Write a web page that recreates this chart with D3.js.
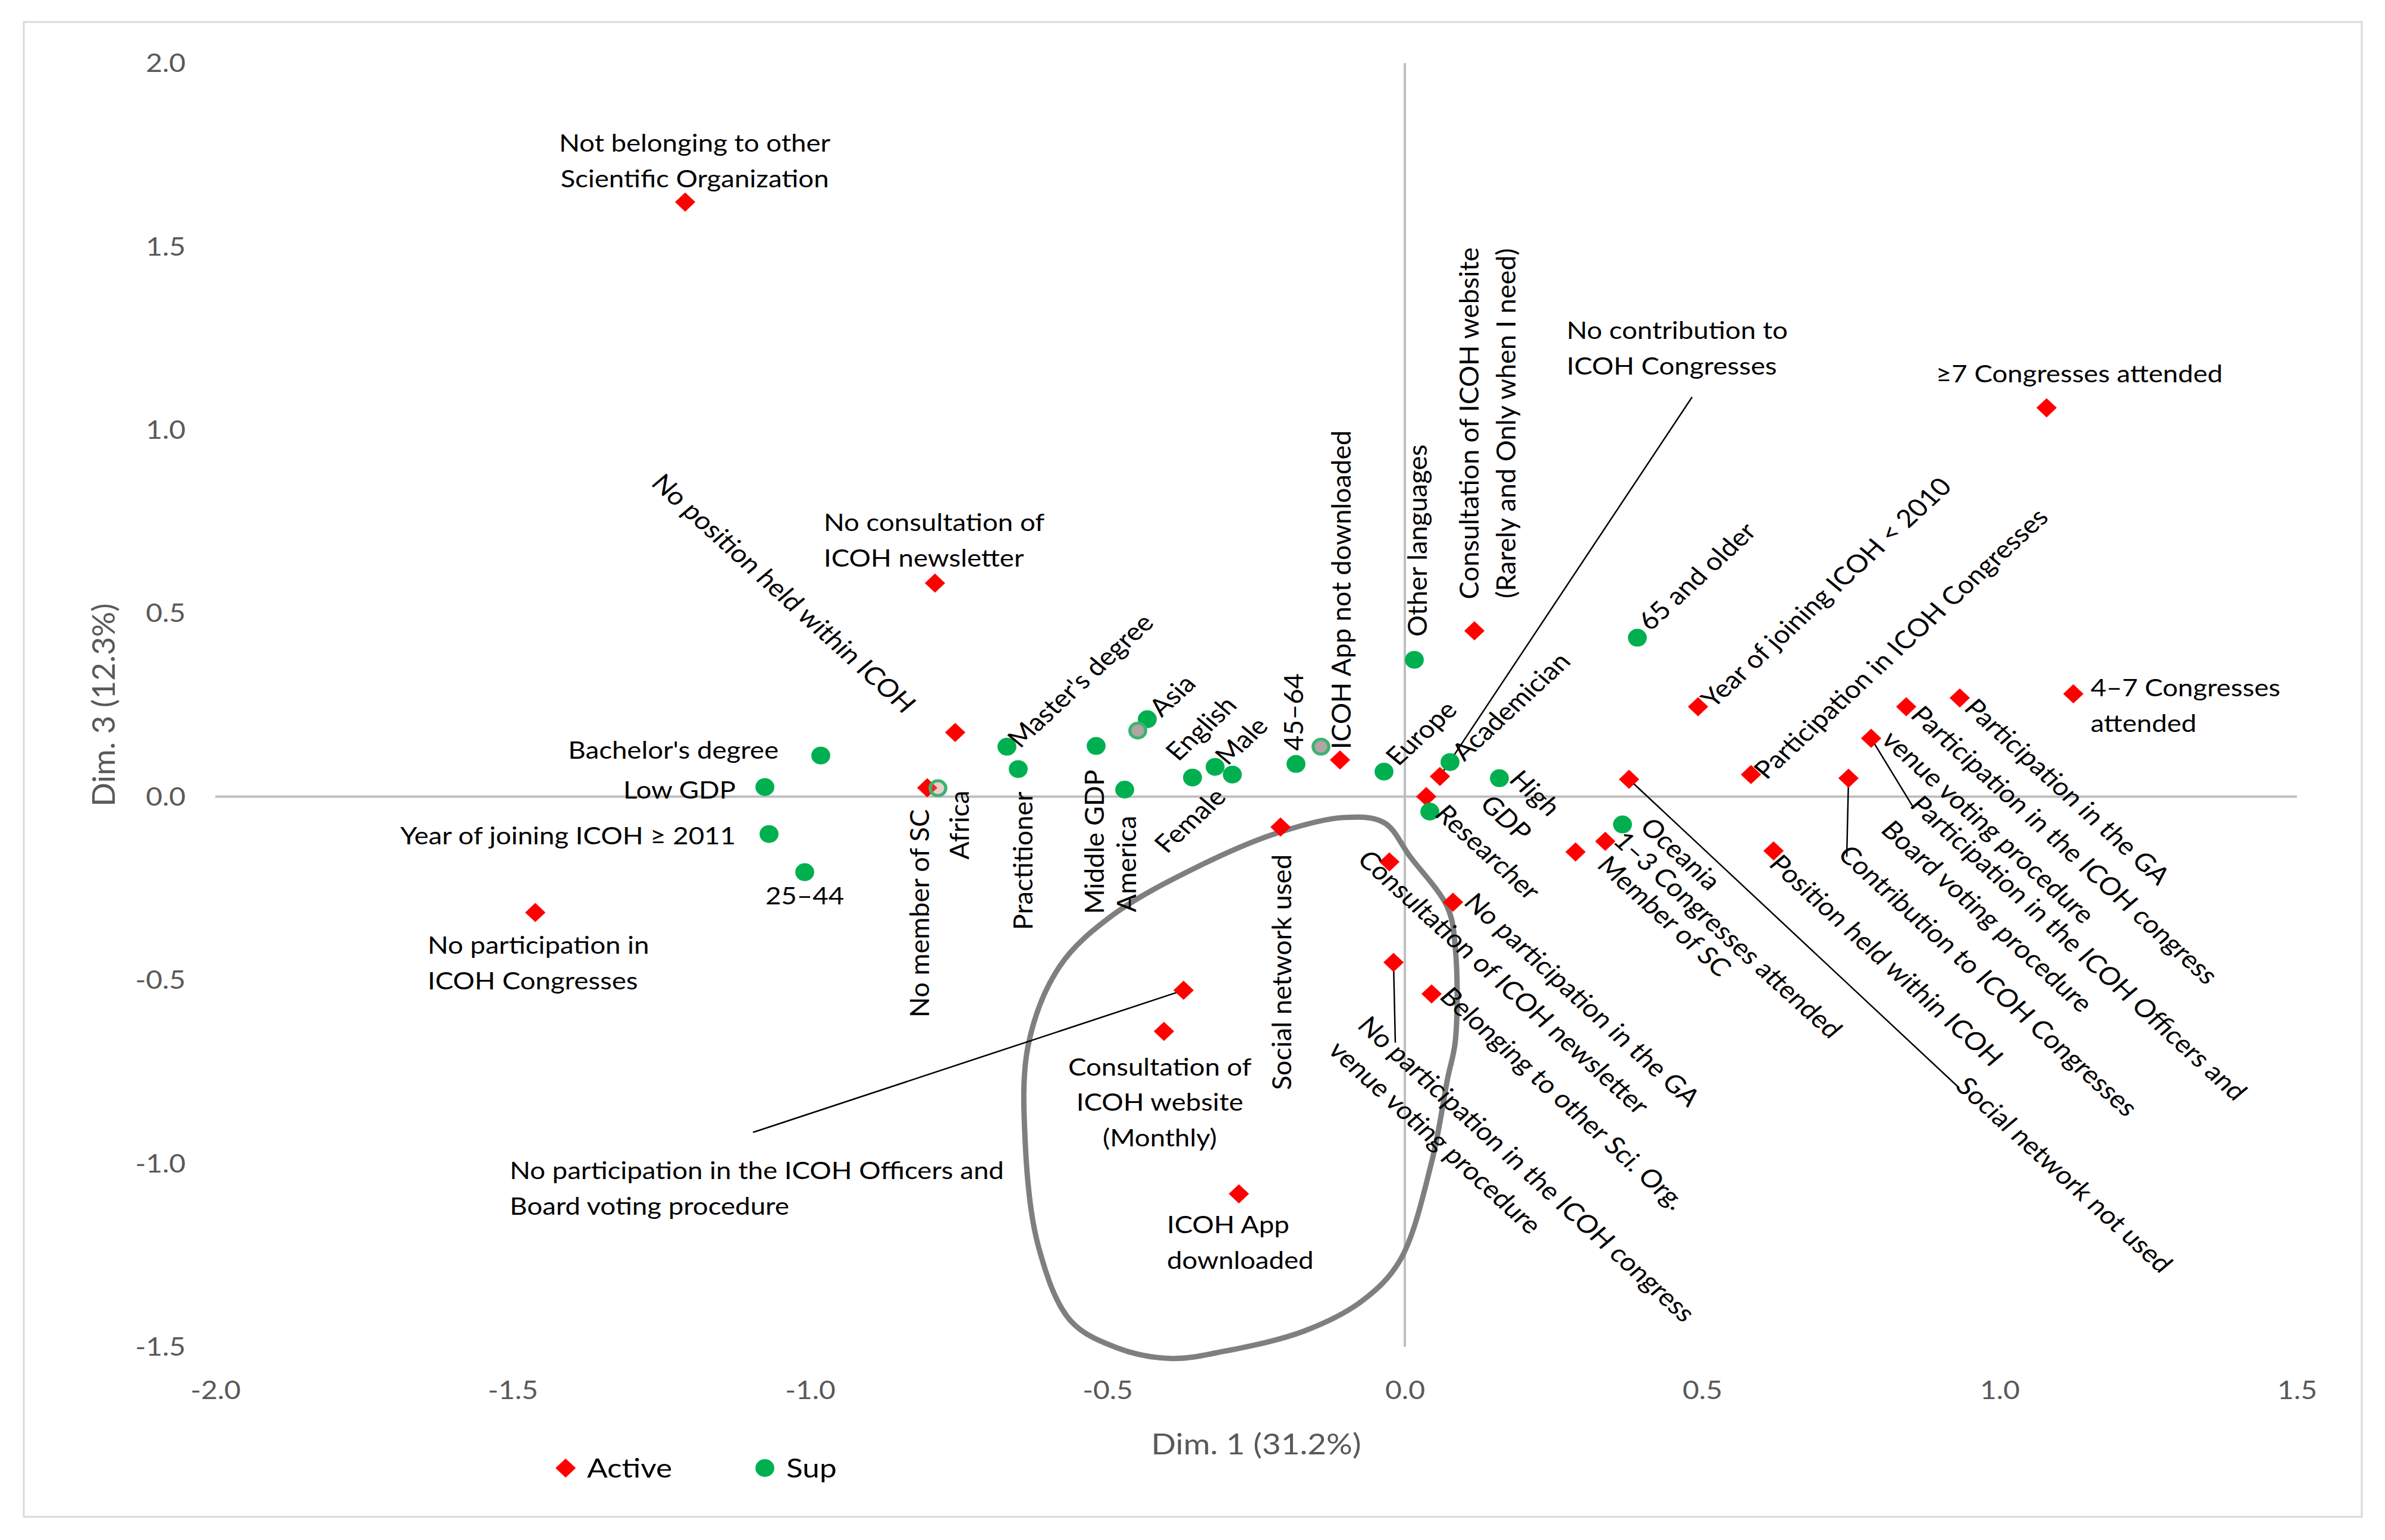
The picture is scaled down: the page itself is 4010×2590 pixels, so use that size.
<!DOCTYPE html>
<html><head><meta charset="utf-8">
<script src="https://cdn.jsdelivr.net/npm/d3@7"></script>
<style>
body{margin:0;background:#fff}
svg{display:block}
text{font-family:Lato,'Open Sans',sans-serif}
</style>
</head><body>
<svg id="chart" width="4010" height="2590"></svg>
<script>
// ---------------- DATA ----------------
const activeNames = [
  "Not belonging to other\nScientific Organization",
  "No participation in\nICOH Congresses",
  "No consultation of\nICOH newsletter",
  "No position held within ICOH",
  "No member of SC",
  "ICOH App not downloaded",
  "Social network used",
  "Consultation of ICOH website\n(Rarely and Only when I need)",
  "No contribution to\nICOH Congresses",
  "",
  "Consultation of ICOH newsletter",
  "No participation in the GA",
  "No participation in the ICOH congress\nvenue voting procedure",
  "Belonging to other Sci. Org.",
  "No participation in the ICOH Officers and\nBoard voting procedure",
  "Consultation of\nICOH website\n(Monthly)",
  "ICOH App\ndownloaded",
  "Member of SC",
  "1\u20133 Congresses attended",
  "Social network not used",
  "Year of joining ICOH < 2010",
  "Participation in ICOH Congresses",
  "Position held within ICOH",
  "Contribution to ICOH Congresses",
  "Participation in the ICOH Officers and\nBoard voting procedure",
  "Participation in the ICOH congress\nvenue voting procedure",
  "Participation in the GA",
  "4\u20137 Congresses\nattended",
  "\u22657 Congresses attended"
];
const activeX = [-1.210,-1.462,-0.790,-0.756,-0.803,-0.109,-0.209,0.117,0.059,0.036,
  -0.026,0.081,-0.019,0.045,-0.372,-0.405,-0.279,0.287,0.337,0.377,
  0.493,0.582,0.620,0.746,0.784,0.843,0.933,1.124,1.079];
const activeY = [1.621,-0.316,0.582,0.175,0.024,0.100,-0.083,0.452,0.055,0.000,
  -0.178,-0.288,-0.452,-0.538,-0.528,-0.640,-1.083,-0.151,-0.122,0.047,
  0.245,0.060,-0.148,0.050,0.159,0.245,0.269,0.280,1.060];

const supNames = ["Bachelor's degree","Low GDP","Year of joining ICOH \u2265 2011","25\u201344",
  "Master's degree","Practitioner","Middle GDP","America","Asia","Female","English","Male",
  "45\u201364","Europe","Other languages","Academician","Researcher","High\nGDP","65 and older","Oceania"];
const supX = [-0.982,-1.076,-1.069,-1.009,-0.669,-0.650,-0.519,-0.471,-0.433,-0.357,-0.319,-0.290,
  -0.183,-0.035,0.016,0.076,0.042,0.159,0.391,0.366];
const supY = [0.112,0.026,-0.102,-0.206,0.136,0.075,0.138,0.019,0.211,0.052,0.081,0.060,
  0.089,0.068,0.373,0.094,-0.041,0.050,0.433,-0.076];

// overlapping (ring) sup points
const ringNames = ["Africa","",""];
const ringX = [-0.785,-0.449,-0.141];
const ringY = [0.023,0.180,0.136];

const xTickValues = [-2.0,-1.5,-1.0,-0.5,0.0,0.5,1.0,1.5];
const xTickLabels = ["-2.0","-1.5","-1.0","-0.5","0.0","0.5","1.0","1.5"];
const yTickValues = [-1.5,-1.0,-0.5,0.0,0.5,1.0,1.5,2.0];
const yTickLabels = ["-1.5","-1.0","-0.5","0.0","0.5","1.0","1.5","2.0"];

const xTitle = "Dim. 1 (31.2%)";
const yTitle = "Dim. 3 (12.3%)";
const legendNames = ["Active","Sup"];

// hand-drawn outline (data units)
const outlineX = [-0.102,-0.035,0.009,0.072,0.085,0.085,0.072,0.045,-0.008,-0.071,-0.169,-0.303,-0.392,-0.482,-0.562,-0.616,-0.638,-0.633,-0.580,-0.491,-0.348,-0.214];
const outlineY = [-0.057,-0.071,-0.164,-0.303,-0.415,-0.665,-0.768,-0.997,-1.264,-1.374,-1.457,-1.512,-1.532,-1.504,-1.429,-1.227,-0.951,-0.676,-0.462,-0.323,-0.191,-0.099];

// ---------------- LABEL LAYOUT (pixel offsets from the point) ----------------
// [angle, anchor, dx, dy, leaderDx, leaderDy]
const layout = {
  "Not belonging to other\nScientific Organization":[0,"middle",16,-99],
  "No participation in\nICOH Congresses":[0,"start",-181,55],
  "No consultation of\nICOH newsletter":[0,"start",-187,-102],
  "No position held within ICOH":[45,"end",-75,-40],
  "No member of SC":[-90,"end",-13,36],
  "ICOH App not downloaded":[-90,"start",2,-18],
  "Social network used":[-90,"end",2,46],
  "Consultation of ICOH website\n(Rarely and Only when I need)":[-90,"middle",-9,-349],
  "No contribution to\nICOH Congresses":[0,"start",213,-750,424,-638],
  "Consultation of ICOH newsletter":[45,"start",-44,-12],
  "No participation in the GA":[45,"start",28,-8],
  "No participation in the ICOH congress\nvenue voting procedure":[45,"start",-51,98,3,135],
  "Belonging to other Sci. Org.":[45,"start",23,-4],
  "No participation in the ICOH Officers and\nBoard voting procedure":[0,"start",-1133,304,-724,239],
  "Consultation of\nICOH website\n(Monthly)":[0,"middle",-7,60],
  "ICOH App\ndownloaded":[0,"start",-121,52],
  "Member of SC":[45,"start",46,14],
  "1\u20133 Congresses attended":[45,"start",23,-9],
  "Social network not used":[45,"start",559,508,553,517],
  "Year of joining ICOH < 2010":[-45,"start",14,-6],
  "Participation in ICOH Congresses":[-45,"start",14,0],
  "Position held within ICOH":[45,"start",2,14],
  "Contribution to ICOH Congresses":[45,"start",-8,120,-3,132],
  "Participation in the ICOH Officers and\nBoard voting procedure":[45,"start",75,104,72,118],
  "Participation in the ICOH congress\nvenue voting procedure":[45,"start",17,6],
  "Participation in the GA":[45,"start",17,9],
  "4\u20137 Congresses\nattended":[0,"start",29,-10],
  "\u22657 Congresses attended":[0,"middle",55,-57],
  "Bachelor's degree":[0,"end",-71,-9],
  "Low GDP":[0,"end",-49,5],
  "Year of joining ICOH \u2265 2011":[0,"end",-56,3],
  "25\u201344":[0,"middle",0,40],
  "Africa":[-90,"end",36,4],
  "Master's degree":[-45,"start",10,-6],
  "Practitioner":[-90,"end",8,38],
  "Middle GDP":[-90,"end",-3,40],
  "America":[-90,"end",3,44],
  "Asia":[-45,"start",12,-12],
  "Female":[-45,"end",47,25],
  "English":[-45,"start",-74,-18],
  "Male":[-45,"start",-20,-24],
  "45\u201364":[-90,"start",-4,-22],
  "Europe":[-45,"start",12,-18],
  "Other languages":[-90,"start",5,-39],
  "Academician":[-45,"start",12,-10],
  "Researcher":[45,"start",18,-4],
  "High\nGDP":[45,"start",26,-6],
  "65 and older":[-45,"start",10,-20],
  "Oceania":[45,"start",39,-4]
};

// ---------------- DRAWING ----------------
const SX = 1.14;          // horizontal stretch of the original figure
const LABEL_FS = 40, DIAG_FS = 41.5, VERT_FS = 45, LH = 60, VLH = 62;
const ROT = {"45":46, "-45":-46.5, "0":0};
const RED = "#ff0000", GREEN = "#00b050";

const svg = d3.select("#chart");
const x = d3.scaleLinear().domain([-2, 1.5]).range([362, 3862]);
const y = d3.scaleLinear().domain([-1.5, 2]).range([2265, 106]);

svg.append("rect").attr("x",0).attr("y",0).attr("width",4010).attr("height",2590).attr("fill","#fff");
svg.append("rect").attr("x",40).attr("y",37).attr("width",3931).attr("height",2514)
  .attr("fill","none").attr("stroke","#d9d9d9").attr("stroke-width",3);

// zero lines
svg.append("line").attr("x1",x(-2)).attr("x2",x(1.5)).attr("y1",y(0)).attr("y2",y(0))
  .attr("stroke","#bfbfbf").attr("stroke-width",4);
svg.append("line").attr("x1",x(0)).attr("x2",x(0)).attr("y1",y(2)).attr("y2",y(-1.5))
  .attr("stroke","#bfbfbf").attr("stroke-width",4);

// axes (tick labels only)
const gx = svg.append("g").attr("transform","translate(0,2338)")
  .call(d3.axisBottom(x).tickValues(xTickValues).tickFormat((d,i)=>xTickLabels[i]).tickSize(0).tickPadding(0));
gx.select(".domain").remove();
gx.selectAll("text").attr("y",0).attr("dy","0.35em").attr("text-anchor","middle")
  .attr("transform",`scale(${SX},1)`).attr("fill","#595959").style("font-size","42px")
  .style("font-family","Lato,'Open Sans',sans-serif");

const gy = svg.append("g").attr("transform","translate(312,0)")
  .call(d3.axisLeft(y).tickValues(yTickValues).tickFormat((d,i)=>yTickLabels[i]).tickSize(0).tickPadding(0));
gy.select(".domain").remove();
gy.selectAll("text").attr("x",0).attr("dy","0.35em").attr("text-anchor","end")
  .attr("transform",`scale(${SX},1)`).attr("fill","#595959").style("font-size","42px")
  .style("font-family","Lato,'Open Sans',sans-serif");

// axis titles
svg.append("text").attr("transform",`translate(${(x(-2)+x(1.5))/2},2429) scale(${SX},1)`)
  .attr("text-anchor","middle").attr("dy","0.35em").attr("fill","#595959")
  .style("font-size","48px").text(xTitle);
svg.append("text").attr("transform",`translate(174,${(y(2)+y(-1.5))/2}) rotate(-90)`)
  .attr("text-anchor","middle").attr("dy","0.35em").attr("fill","#595959")
  .style("font-size","53px").text(yTitle);

// outline curve
const outlinePts = outlineX.map((v,i)=>[x(v), y(outlineY[i])]);
svg.append("path").attr("d", d3.line().curve(d3.curveCatmullRomClosed.alpha(0.5))(outlinePts))
  .attr("fill","none").attr("stroke","#7f7f7f").attr("stroke-width",9);

// assemble points
const active = activeNames.map((n,i)=>({name:n, px:x(activeX[i]), py:y(activeY[i])}));
const sup = supNames.map((n,i)=>({name:n, px:x(supX[i]), py:y(supY[i])}));
const ring = ringNames.map((n,i)=>({name:n, px:x(ringX[i]), py:y(ringY[i])}));
const all = active.concat(sup, ring);

// leader lines
all.forEach(d=>{
  const L = layout[d.name];
  if (L && L.length > 4) {
    svg.append("line").attr("x1",d.px).attr("y1",d.py)
      .attr("x2",d.px+L[4]).attr("y2",d.py+L[5])
      .attr("stroke","#000").attr("stroke-width",2.5);
  }
});

// markers
const diamond = d3.symbol().type(d3.symbolSquare).size(520);
const circle = d3.symbol().type(d3.symbolCircle).size(Math.PI*15*15);
svg.append("g").selectAll("path").data(active).join("path")
  .attr("d", diamond).attr("transform", d=>`translate(${d.px},${d.py}) scale(1.06,1) rotate(45)`)
  .attr("fill", RED);
svg.append("g").selectAll("path").data(sup).join("path")
  .attr("d", circle).attr("transform", d=>`translate(${d.px},${d.py}) scale(1.06,1)`)
  .attr("fill", GREEN);
svg.append("g").selectAll("path").data(ring).join("path")
  .attr("d", d3.symbol().type(d3.symbolCircle).size(Math.PI*12.5*12.5))
  .attr("transform", d=>`translate(${d.px},${d.py}) scale(1.06,1)`)
  .attr("fill", (d,i)=> i===0 ? "rgba(200,120,100,0.35)" : "#b0a4a4")
  .attr("stroke", "#3cb371").attr("stroke-width",5);

// labels
const gl = svg.append("g");
all.forEach(d=>{
  const L = layout[d.name];
  if (!L || !d.name) return;
  const [a, anchor, dx, dy] = L;
  const vert = (a === -90);
  const diag = (a === 45 || a === -45);
  const X = d.px + dx, Y = d.py + dy;
  const tf = vert ? `translate(${X},${Y}) rotate(-90)` : `translate(${X},${Y}) scale(${SX},1) rotate(${ROT[String(a)]})`;
  const t = gl.append("text").attr("transform", tf).attr("text-anchor", anchor)
    .attr("fill","#000").style("font-size", (vert?VERT_FS:(diag?DIAG_FS:LABEL_FS))+"px");
  d.name.split("\n").forEach((line,i)=>{
    t.append("tspan").attr("x",0).attr("dy", i===0 ? "0.35em" : (vert?VLH:LH)).text(line);
  });
});

// legend
const lg = svg.append("g");
lg.append("path").attr("d", diamond).attr("transform","translate(951,2469) scale(1.06,1) rotate(45)").attr("fill",RED);
lg.append("text").attr("transform",`translate(987,2469) scale(${SX},1)`).attr("dy","0.35em")
  .style("font-size","45px").attr("fill","#000").text(legendNames[0]);
lg.append("path").attr("d", circle).attr("transform","translate(1286,2469) scale(1.06,1)").attr("fill",GREEN);
lg.append("text").attr("transform",`translate(1322,2469) scale(${SX},1)`).attr("dy","0.35em")
  .style("font-size","45px").attr("fill","#000").text(legendNames[1]);
</script>
</body></html>
